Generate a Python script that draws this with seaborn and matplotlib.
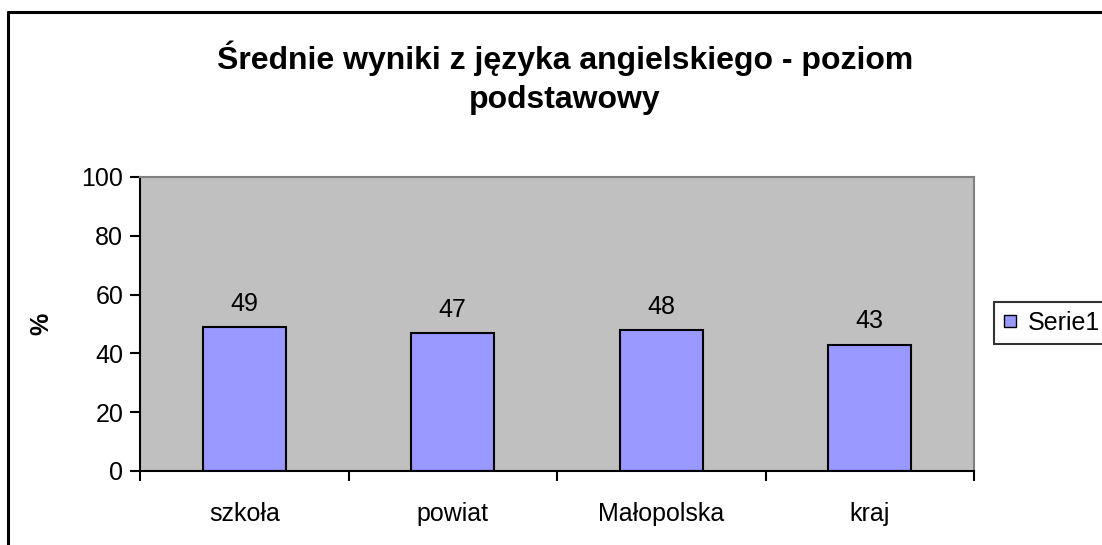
import matplotlib
matplotlib.use("Agg")
import matplotlib.pyplot as plt
import seaborn as sns
import pandas as pd
from matplotlib.lines import Line2D

# data
categories = ["szkoła", "powiat", "Małopolska", "kraj"]
values = [49, 47, 48, 43]
series_name = "Serie1"

sns.set_style("white")
plt.rcParams['font.family'] = ['Liberation Sans', 'DejaVu Sans']
plt.rcParams['text.color'] = 'black'
plt.rcParams['axes.labelcolor'] = 'black'
plt.rcParams['xtick.color'] = 'black'
plt.rcParams['ytick.color'] = 'black'

df = pd.DataFrame({"kat": categories, "wynik": values})

fig = plt.figure(figsize=(11.02, 5.45), dpi=100)
ax = fig.add_axes([140 / 1102, 74 / 545, 834 / 1102, 294 / 545])

sns.barplot(data=df, x="kat", y="wynik", color="#9999FF", saturation=1,
            edgecolor="black", linewidth=1.5, width=0.4, ax=ax)

ax.set_facecolor("#C0C0C0")
ax.set_ylim(0, 100)
ax.set_xlim(-0.5, len(categories) - 0.5)
ax.set_yticks(range(0, 101, 20))
ax.tick_params(axis="y", labelsize=18, length=7, width=1.5, direction="out", left=True, pad=5)

# category labels in the middle, tick marks between categories
ax.set_xticks(range(len(categories)))
ax.set_xticklabels(categories)
ax.tick_params(axis="x", which="major", length=0, pad=22, labelsize=18)
ax.set_xticks([i - 0.5 for i in range(len(categories) + 1)], minor=True)
ax.tick_params(axis="x", which="minor", length=7, width=1.5, direction="out", bottom=True)

ax.set_xlabel("")
ax.set_ylabel("%", fontsize=18, fontweight="bold", labelpad=20)

for s in ["left", "bottom"]:
    ax.spines[s].set_color("black")
    ax.spines[s].set_linewidth(1.5)
for s in ["top", "right"]:
    ax.spines[s].set_color("#808080")
    ax.spines[s].set_linewidth(1.5)

for i, v in enumerate(values):
    ax.annotate(str(v), (i, v), xytext=(0, 8), textcoords="offset points",
                ha="center", va="bottom", fontsize=18)

fig.suptitle("Średnie wyniki z języka angielskiego - poziom\npodstawowy",
             fontsize=23, fontweight="bold", x=565 / 1102, y=1 - 40 / 545, va="top",
             linespacing=1.4)

# legend with a small square marker
handle = Line2D([], [], marker="s", linestyle="", markersize=8,
                markerfacecolor="#9999FF", markeredgecolor="black", markeredgewidth=1)
leg = fig.legend([handle], [series_name], loc="center left",
                 bbox_to_anchor=(994 / 1102, 1 - 323 / 545), fontsize=18,
                 frameon=True, fancybox=False, edgecolor="black",
                 handlelength=0.6, handletextpad=0.4,
                 borderpad=0.35, borderaxespad=0)
leg.get_frame().set_linewidth(1.5)

# outer chart border (only left and top visible in the crop)
fig.add_artist(Line2D([8 / 1102, 8 / 1102], [0, 1 - 12 / 545], transform=fig.transFigure,
                      color="black", linewidth=2.2))
fig.add_artist(Line2D([8 / 1102, 1], [1 - 12 / 545, 1 - 12 / 545], transform=fig.transFigure,
                      color="black", linewidth=2.2))

fig.savefig("out.png", dpi=100)
